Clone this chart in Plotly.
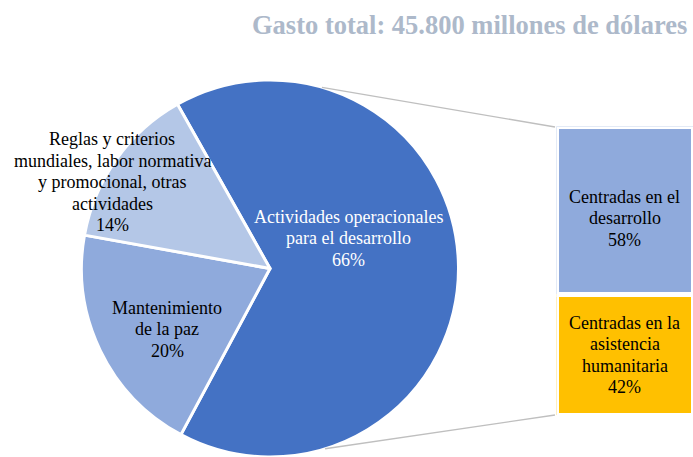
import math
import plotly.graph_objects as go

# ---- data ----
pie_labels = ["Actividades operacionales<br>para el desarrollo",
              "Mantenimiento<br>de la paz",
              "Reglas y criterios<br>mundiales, labor normativa<br>y promocional, otras<br>actividades"]
pie_values = [66, 20, 14]
pie_colors = ["#4472C4", "#8FAADC", "#B4C7E7"]

bar_labels = ["Centradas en la<br>asistencia<br>humanitaria", "Centradas en el<br>desarrollo"]
bar_values = [42, 58]
bar_colors = ["#FFC000", "#8FAADC"]

title_text = "Gasto total: 45.800 millones de dólares"

W, H = 693, 457
FONT = "Liberation Serif"
FS = 18          # label font size
LINE = 21.5      # label line spacing (px)

# pie geometry (pixels)
cx, cy = 270, 268.5
R = 188.5
pie_dom_x = [(cx - R) / W, (cx + R) / W]
pie_dom_y = [1 - (cy + R) / H, 1 - (cy - R) / H]

fig = go.Figure()
fig.add_trace(go.Pie(
    values=pie_values, labels=[l.replace("<br>", " ") for l in pie_labels],
    marker=dict(colors=pie_colors, line=dict(color="white", width=3)),
    sort=False, direction="clockwise", rotation=-29.4,
    textinfo="none", hoverinfo="label+percent", showlegend=False,
    domain=dict(x=pie_dom_x, y=pie_dom_y),
))

# stacked bar
for lab, val, col in zip(bar_labels, bar_values, bar_colors):
    fig.add_trace(go.Bar(
        x=[0], y=[val], width=1, marker=dict(color=col, line=dict(color="white", width=5)),
        showlegend=False, hoverinfo="y", name=lab.replace("<br>", " "),
    ))

bar_top_px, bar_bot_px = 126.5, 415.5
fig.update_layout(
    width=W, height=H, margin=dict(l=0, r=0, t=0, b=0),
    paper_bgcolor="white", plot_bgcolor="white",
    barmode="stack", bargap=0,
    xaxis=dict(domain=[556.5 / W, 1], range=[-0.5, 0.5], visible=False, fixedrange=True),
    yaxis=dict(domain=[1 - bar_bot_px / H, 1 - bar_top_px / H], range=[0, 100], visible=False, fixedrange=True),
)

annotations = []
# title
annotations.append(dict(text="<b>" + title_text + "</b>", xref="paper", yref="paper",
                        x=689 / W, y=1 - 25 / H, xanchor="right", yanchor="middle",
                        showarrow=False, font=dict(family=FONT, size=26.5, color="#ADB9CA")))


def multiline(text, x, y, xref, yref, color, extra_shift=0):
    lines = text.split("<br>")
    n = len(lines)
    out = []
    for i, ln in enumerate(lines):
        out.append(dict(text=ln, xref=xref, yref=yref, x=x, y=y,
                        xanchor="center", yanchor="middle",
                        yshift=-(i - (n - 1) / 2) * LINE + extra_shift,
                        showarrow=False, font=dict(family=FONT, size=FS, color=color)))
    return out


# pie labels
pie_label_pos = [(348, 238, "white"), (167, 329, "black"), (112, 182, "black")]
for lab, val, (px, py, col) in zip(pie_labels, pie_values, pie_label_pos):
    annotations += multiline(f"{lab}<br>{val}%", px / W, 1 - py / H, "paper", "paper", col)

# bar labels
cum = 0
shifts = [0, -8]
for lab, val, sh in zip(bar_labels, bar_values, shifts):
    annotations += multiline(f"{lab}<br>{val}%", 0, cum + val / 2, "x", "y", "black", sh)
    cum += val
fig.update_layout(annotations=annotations)

# connector lines: from pie edge to bar corners
def pie_pt(angle_deg):
    a = math.radians(angle_deg)
    return cx + R * math.sin(a), cy - R * math.cos(a)

shapes = []
for ang, by in [(16, 127), (163, 415)]:
    x0, y0 = pie_pt(ang)
    shapes.append(dict(type="line", xref="paper", yref="paper",
                       x0=x0 / W, y0=1 - y0 / H, x1=555 / W, y1=1 - by / H,
                       line=dict(color="#BFBFBF", width=1.3)))
fig.update_layout(shapes=shapes)

fig.write_html("out.html", config={"displayModeBar": False},
               post_script="document.body.style.margin='0';document.body.style.overflow='hidden';")
